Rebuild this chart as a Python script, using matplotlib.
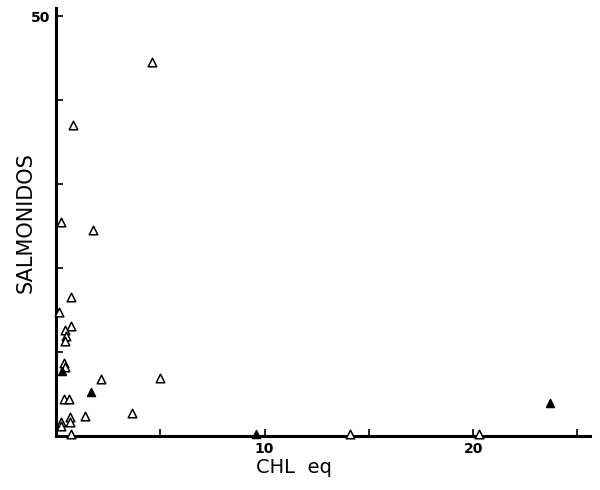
#!/usr/bin/env python3
# Salmonidos vs CHL eq scatter
import matplotlib
matplotlib.use("Agg")
import matplotlib.pyplot as plt

# open triangles
open_x = [4.6, 0.81, 0.24, 1.77, 0.70, 0.15, 0.73, 0.45, 0.48, 0.41, 0.38, 0.41,
          2.14, 5.0, 0.38, 0.61, 1.37, 3.64, 0.67, 0.67, 0.22, 0.22, 0.70, 14.1, 20.3]
open_y = [44.6, 37.1, 25.5, 24.6, 16.6, 14.8, 13.1, 12.6, 11.9, 11.3, 8.7, 8.2,
          6.8, 6.9, 4.4, 4.4, 2.4, 2.7, 2.3, 1.7, 1.7, 1.2, 0.3, 0.2, 0.2]
# filled triangles
fill_x = [1.69, 0.29, 9.6, 23.7]
fill_y = [5.3, 7.7, 0.2, 3.9]

xticks = [5, 10, 15, 20, 25]
xlabs = ["", "10", "", "20", ""]
yticks = [10, 20, 30, 40, 50]
ylabs = ["", "", "", "", "50"]

fig = plt.figure(figsize=(6, 4.9), dpi=100)
ax = fig.add_axes([0.0933, 0.110, 0.890, 0.874])
ax.scatter(open_x, open_y, marker="^", s=38, facecolors="white",
           edgecolors="black", linewidths=1.1, zorder=3, clip_on=False)
ax.scatter(fill_x, fill_y, marker="^", s=34, color="black", zorder=3, clip_on=False)

ax.set_xlim(0, 25.6)
ax.set_ylim(0, 51)
for s in ["top", "right"]:
    ax.spines[s].set_visible(False)
for s in ["left", "bottom"]:
    ax.spines[s].set_linewidth(2.2)
ax.set_xticks(xticks)
ax.set_xticklabels(xlabs, fontsize=10, fontweight="semibold")
ax.set_yticks(yticks)
ax.set_yticklabels(ylabs, fontsize=10, fontweight="semibold")
ax.tick_params(direction="in", length=5, width=1.2, pad=4)

fig.text(0.49, 0.045, "CHL  eq", fontsize=14, ha="center", va="center")
fig.text(0.042, 0.545, "SALMONIDOS", fontsize=15, rotation=90,
         ha="center", va="center")

plt.savefig("out.png", dpi=100)
